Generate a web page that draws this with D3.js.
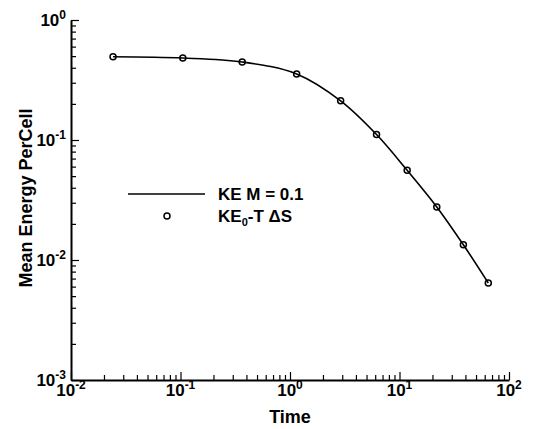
<!DOCTYPE html>
<html>
<head>
<meta charset="utf-8">
<script src="https://cdn.jsdelivr.net/npm/d3@7"></script>
<style>
  body { margin: 0; background: #fff; }
  svg { display: block; font-family: "Liberation Sans", Arial, sans-serif; font-weight: bold; }
</style>
</head>
<body>
<div id="chart"></div>
<script>
// values
var time = [0.0242, 0.105, 0.366, 1.15, 2.90, 6.17, 11.75, 21.9, 38.3, 64.7];
var keLine = [0.494, 0.482, 0.447, 0.355, 0.212, 0.111, 0.0559, 0.0277, 0.0134, 0.00643];
var keDeltaS = [0.494, 0.482, 0.447, 0.355, 0.212, 0.111, 0.0559, 0.0277, 0.0134, 0.00643];
var xDecades = [-2, -1, 0, 1, 2];
var yDecades = [-3, -2, -1, 0];

var width = 548, height = 429;
var margin = {top: 20, right: 39, bottom: 49, left: 71};

var svg = d3.select("#chart").append("svg")
	.attr("width", width)
	.attr("height", height);

var x = d3.scaleLog().domain([1e-2, 1e2]).range([margin.left, width - margin.right]);
var y = d3.scaleLog().domain([1e-3, 1]).range([height - margin.bottom, margin.top]);

// minor + major tick values
function logTicks(lo, hi) {
	var out = [];
	for (var e = lo; e < hi; e++) {
		for (var m = 1; m < 10; m++) out.push(m * Math.pow(10, e));
	}
	out.push(Math.pow(10, hi));
	return out;
}
function isMajor(v) {
	var l = Math.log10(v);
	return Math.abs(l - Math.round(l)) < 1e-9;
}

// axes: ticks pointing inward, labels drawn by hand for the exponents
var xAxis = d3.axisTop(x)
	.tickValues(logTicks(-2, 2))
	.tickSize(0)
	.tickFormat("");
var gx = svg.append("g")
	.attr("transform", "translate(0," + y.range()[0] + ")")
	.call(xAxis);
gx.select(".domain").attr("stroke", "#000").attr("stroke-width", 2);
gx.selectAll(".tick line")
	.attr("y2", function(d) { return isMajor(d) ? -8 : -5; })
	.attr("stroke", "#000")
	.attr("stroke-width", 1.2);

var yAxis = d3.axisRight(y)
	.tickValues(logTicks(-3, 0))
	.tickSize(0)
	.tickFormat("");
var gy = svg.append("g")
	.attr("transform", "translate(" + x.range()[0] + ",0)")
	.call(yAxis);
gy.select(".domain").attr("stroke", "#000").attr("stroke-width", 2);
gy.selectAll(".tick line")
	.attr("x2", function(d) { return isMajor(d) ? 8 : 5; })
	.attr("stroke", "#000")
	.attr("stroke-width", 1.2);

// tick labels 10^n
svg.selectAll("text.xlab").data(xDecades).enter().append("text")
	.attr("class", "xlab")
	.attr("x", function(d) { return x(Math.pow(10, d)); })
	.attr("y", 396)
	.attr("text-anchor", "middle")
	.attr("font-size", 17)
	.each(function(d) {
		var t = d3.select(this);
		t.append("tspan").text("10");
		t.append("tspan").attr("dy", -7).attr("font-size", 12).text(d);
	});

svg.selectAll("text.ylab").data(yDecades).enter().append("text")
	.attr("class", "ylab")
	.attr("x", 66)
	.attr("y", function(d) { return y(Math.pow(10, d)) + 6; })
	.attr("text-anchor", "end")
	.attr("font-size", 17)
	.each(function(d) {
		var t = d3.select(this);
		t.append("tspan").text("10");
		t.append("tspan").attr("dy", -7).attr("font-size", 12).text(d);
	});

// axis titles
svg.append("text")
	.attr("x", x(1))
	.attr("y", 423)
	.attr("text-anchor", "middle")
	.attr("font-size", 18)
	.text("Time");

svg.append("text")
	.attr("transform", "translate(32,198) rotate(-90)")
	.attr("text-anchor", "middle")
	.attr("font-size", 18)
	.text("Mean Energy PerCell");

// line series
var line = d3.line()
	.x(function(d, i) { return x(time[i]); })
	.y(function(d) { return y(d); })
	.curve(d3.curveCatmullRom);

svg.append("path")
	.datum(keLine)
	.attr("d", line)
	.attr("fill", "none")
	.attr("stroke", "#000")
	.attr("stroke-width", 1.6);

// circle series
svg.selectAll("circle.pt").data(keDeltaS).enter().append("circle")
	.attr("class", "pt")
	.attr("cx", function(d, i) { return x(time[i]); })
	.attr("cy", function(d) { return y(d); })
	.attr("r", 3)
	.attr("fill", "none")
	.attr("stroke", "#000")
	.attr("stroke-width", 1.5);

// legend
var lg = svg.append("g").attr("font-size", 17);
lg.append("line")
	.attr("x1", 128).attr("x2", 205)
	.attr("y1", 194).attr("y2", 194)
	.attr("stroke", "#000").attr("stroke-width", 1.6);
lg.append("text").attr("x", 218).attr("y", 200).text("KE M = 0.1");
lg.append("circle")
	.attr("cx", 167).attr("cy", 216).attr("r", 3)
	.attr("fill", "none").attr("stroke", "#000").attr("stroke-width", 1.5);
var t2 = lg.append("text").attr("x", 218).attr("y", 222);
t2.append("tspan").text("KE");
t2.append("tspan").attr("dy", 4).attr("font-size", 11).text("0");
t2.append("tspan").attr("dy", -4).text("-T \u0394S");
</script>
</body>
</html>
